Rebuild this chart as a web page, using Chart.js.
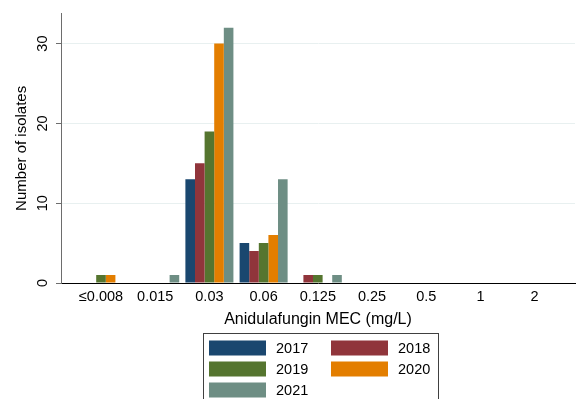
<!DOCTYPE html>
<html>
<head>
<meta charset="utf-8">
<script src="https://cdn.jsdelivr.net/npm/chart.js@4/dist/chart.umd.min.js"></script>
<style>
  html, body { margin: 0; padding: 0; background: #fff; }
</style>
</head>
<body>
<canvas id="mecChart" width="576" height="399"></canvas>
<script>
// MIC/MEC categories (x axis)
const mecLabels = ['≤0.008', '0.015', '0.03', '0.06', '0.125', '0.25', '0.5', '1', '2'];

// number of isolates per year
const years = ['2017', '2018', '2019', '2020', '2021'];
const isolates2017 = [0, 0, 13, 5, 0, 0, 0, 0, 0];
const isolates2018 = [0, 0, 15, 4, 1, 0, 0, 0, 0];
const isolates2019 = [1, 0, 19, 5, 1, 0, 0, 0, 0];
const isolates2020 = [1, 0, 30, 6, 0, 0, 0, 0, 0];
const isolates2021 = [0, 1, 32, 13, 1, 0, 0, 0, 0];
const yearColors = ['#1a476f', '#90353b', '#55752f', '#e37e00', '#6e8e84'];

const FONT = "'Liberation Sans', Arial, Helvetica, sans-serif";
Chart.defaults.font.family = FONT;
Chart.defaults.font.size = 14.5;
Chart.defaults.color = '#000';

const seriesList = [isolates2017, isolates2018, isolates2019, isolates2020, isolates2021];

// linear x so the categories can sit with the same margins as the original
const datasets = seriesList.map((values, i) => ({
    label: years[i],
    data: values.map((v, k) => ({ x: k, y: v })),
    backgroundColor: yearColors[i],
    borderWidth: 0,
    categoryPercentage: 0.886,
    barPercentage: 1.0
}));

// legend box drawn below the x-axis title (two columns, framed)
const boxedLegend = {
    id: 'boxedLegend',
    afterDraw(chart) {
        const ctx = chart.ctx;
        const area = chart.chartArea;
        const boxLeft = (area.left + area.right) / 2 - 115.5;
        const boxTop = 333.5;
        ctx.save();
        ctx.strokeStyle = '#404040';
        ctx.lineWidth = 1;
        ctx.strokeRect(Math.round(boxLeft) + 0.5, boxTop, 235, 90);
        ctx.font = '14.5px ' + FONT;
        ctx.textBaseline = 'middle';
        ctx.textAlign = 'left';
        chart.data.datasets.forEach((ds, i) => {
            const col = i % 2;
            const row = Math.floor(i / 2);
            const x = Math.round(boxLeft) + 6 + col * 122;
            const y = 340.5 + row * 21;
            ctx.fillStyle = ds.backgroundColor;
            ctx.fillRect(x, y, 57, 15);
            ctx.fillStyle = '#000';
            ctx.fillText(ds.label, x + 67, y + 8);
        });
        ctx.restore();
    }
};

new Chart(document.getElementById('mecChart'), {
    type: 'bar',
    data: { datasets: datasets },
    options: {
        responsive: false,
        animation: false,
        layout: { padding: { top: 12, right: 1, bottom: 70, left: 0 } },
        plugins: {
            legend: { display: false },
            tooltip: { enabled: false }
        },
        scales: {
            x: {
                type: 'linear',
                offset: false,
                min: -0.738,
                max: 8.745,
                z: 1,
                grid: { display: false, drawTicks: false },
                border: { display: true, color: '#000', width: 1 },
                ticks: {
                    stepSize: 1,
                    autoSkip: false,
                    includeBounds: false,
                    padding: 5,
                    maxRotation: 0,
                    callback: (value) => mecLabels[value] ?? ''
                },
                title: {
                    display: true,
                    text: 'Anidulafungin MEC (mg/L)',
                    font: { size: 16 },
                    padding: { top: 0, bottom: 0 }
                },
                afterFit: (scale) => { scale.height = 46; }
            },
            y: {
                min: 0,
                max: 33.75,
                grid: {
                    color: (c) => (c.tick && c.tick.value === 0) ? 'rgba(0,0,0,0)' : '#e8f0f0',
                    drawTicks: true,
                    tickLength: 5,
                    tickColor: '#6d6d6d'
                },
                border: { display: true, color: '#6d6d6d', width: 1 },
                ticks: {
                    stepSize: 10,
                    includeBounds: false,
                    minRotation: 90,
                    maxRotation: 90,
                    crossAlign: 'center',
                    padding: 5
                },
                title: {
                    display: true,
                    text: 'Number of isolates',
                    font: { size: 15 },
                    padding: { top: 13, bottom: 0 }
                },
                afterFit: (scale) => { scale.width = 61; }
            }
        }
    },
    plugins: [boxedLegend]
});
</script>
</body>
</html>
